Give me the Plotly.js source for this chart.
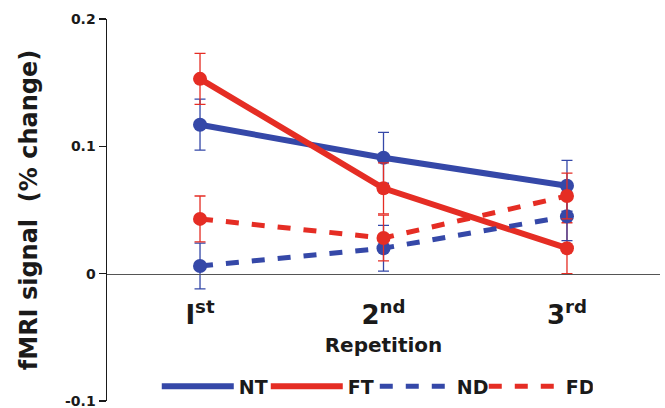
<!DOCTYPE html>
<html>
<head>
<meta charset="utf-8">
<script src="https://cdn.plot.ly/plotly-3.0.1.min.js"></script>
<style>html,body{margin:0;padding:0;background:#fff;}#chart{width:665px;height:408px;}</style>
</head>
<body>
<div id="chart"></div>
<script>
// Data
const repetitions = ['I<sup>st</sup>', '2<sup>nd</sup>', '3<sup>rd</sup>'];
const seriesNames = ['NT', 'FT', 'ND', 'FD'];
const NT = [0.117, 0.091, 0.069];
const NT_err = [0.020, 0.020, 0.020];
const FT = [0.153, 0.067, 0.020];
const FT_err = [0.020, 0.020, 0.020];
const ND = [0.006, 0.020, 0.045];
const ND_err = [0.018, 0.018, 0.019];
const FD = [0.043, 0.028, 0.061];
const FD_err = [0.018, 0.018, 0.018];
const yTickVals = [-0.1, 0, 0.1, 0.2];
const yTickText = ['-0.1', '0', '0.1', '0.2'];

const BLUE = '#3548a8';
const RED = '#e52d24';
const FONT = 'DejaVu Sans, Arial, sans-serif';
const xIdx = [0, 1, 2];

function series(name, y, err, color, dash, width) {
  return [
    {
      type: 'scatter', mode: 'lines', name: name, legendgroup: name,
      x: xIdx, y: y,
      line: {color: color, width: width, dash: dash}
    },
    {
      type: 'scatter', mode: 'markers', name: name, legendgroup: name, showlegend: false,
      x: xIdx, y: y,
      marker: {color: color, size: 14},
      error_y: {type: 'data', array: err, visible: true, color: color, thickness: 1.3, width: 5.5}
    }
  ];
}

const data = [].concat(
  series(seriesNames[0], NT, NT_err, BLUE, 'solid', 6),
  series(seriesNames[1], FT, FT_err, RED, 'solid', 6),
  series(seriesNames[2], ND, ND_err, BLUE, '13px,13px', 5),
  series(seriesNames[3], FD, FD_err, RED, '13px,13px', 5)
);

const layout = {
  width: 665, height: 408,
  margin: {l: 107, r: 5, t: 19, b: 7, autoexpand: false},
  paper_bgcolor: '#fff', plot_bgcolor: '#fff',
  font: {family: FONT, color: '#1a1a1a'},
  showlegend: true,
  legend: {
    orientation: 'h', x: 0.09, xanchor: 'left', y: 0.038, yanchor: 'middle',
    font: {family: FONT, size: 19, color: '#1a1a1a', weight: 'bold'},
    itemwidth: 72, entrywidth: 22, entrywidthmode: 'pixels',
    bgcolor: 'rgba(0,0,0,0)', traceorder: 'normal'
  },
  xaxis: {
    range: [-0.507, 2.507],
    tickmode: 'array', tickvals: xIdx, ticktext: repetitions,
    anchor: 'free', position: 1/3,
    showline: true, linecolor: '#555', linewidth: 1.5,
    ticks: '', showgrid: false, zeroline: false,
    ticklabelstandoff: 18,
    tickfont: {family: FONT, size: 26, color: '#1a1a1a', weight: 'bold'},
    title: {text: 'Repetition', font: {family: FONT, size: 20, color: '#1a1a1a', weight: 'bold'}, standoff: 8},
    automargin: false, fixedrange: true
  },
  yaxis: {
    range: [-0.1, 0.2],
    tickmode: 'array', tickvals: yTickVals, ticktext: yTickText,
    showline: true, linecolor: '#1a1a1a', linewidth: 1.5,
    ticks: 'outside', ticklen: 7, tickwidth: 1.5, tickcolor: '#1a1a1a',
    ticklabeloverflow: 'allow',
    showgrid: false, zeroline: false,
    tickfont: {family: FONT, size: 14, color: '#1a1a1a', weight: 'bold'},
    title: {text: 'fMRI signal  (% change)', font: {family: FONT, size: 24, color: '#1a1a1a', weight: 'bold'}, standoff: 20},
    automargin: false, fixedrange: true
  }
};

Plotly.newPlot('chart', data, layout, {staticPlot: true, displayModeBar: false});
</script>
</body>
</html>
